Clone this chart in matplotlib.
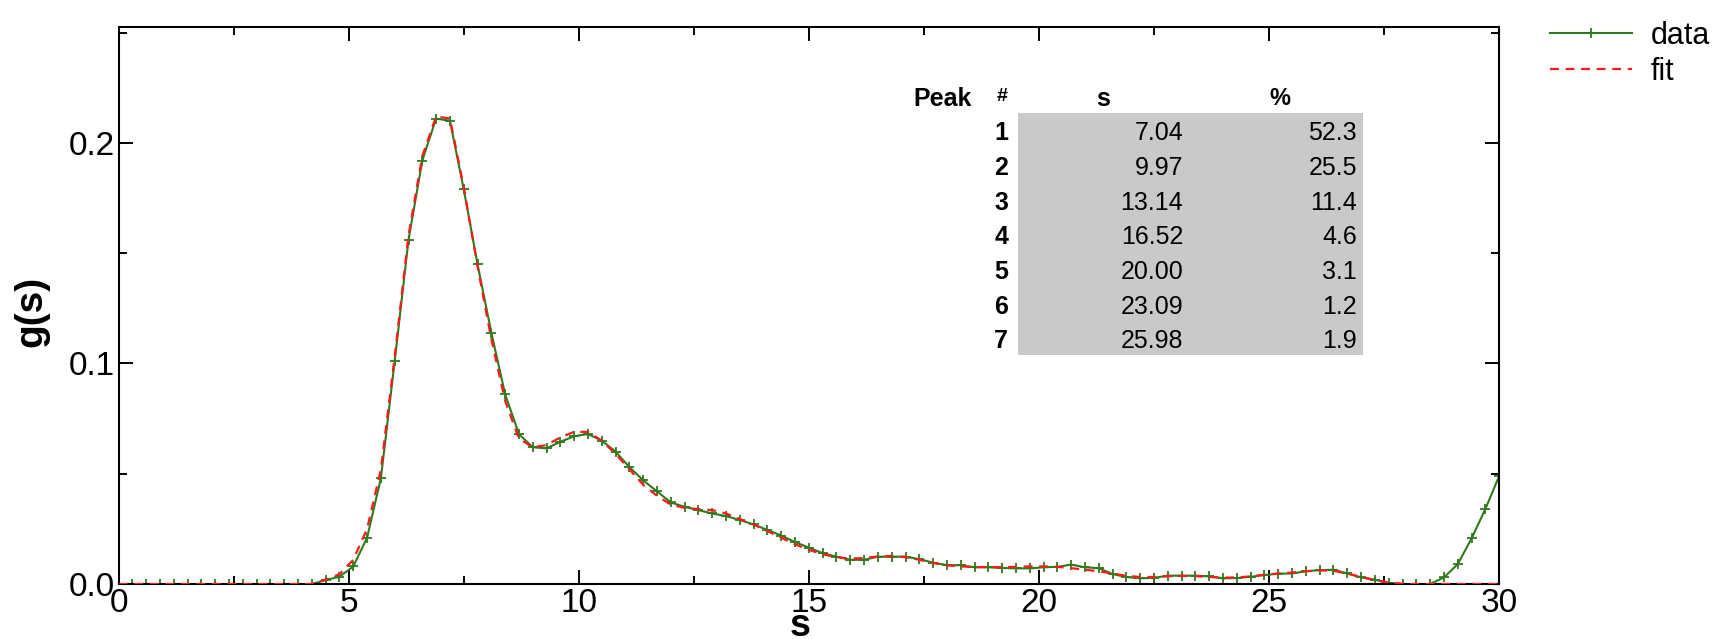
import matplotlib
matplotlib.use("Agg")
import matplotlib.pyplot as plt
from matplotlib.ticker import MultipleLocator, FormatStrFormatter
from matplotlib.patches import Rectangle

plt.rcParams['font.family'] = ['Liberation Sans', 'DejaVu Sans']

# sample positions (s) and g(s) values
s_vals = [0.0, 0.3, 0.6, 0.9, 1.2, 1.5, 1.8, 2.1, 2.4, 2.7,
          3.0, 3.3, 3.6, 3.9, 4.2, 4.5, 4.8, 5.1, 5.4, 5.7,
          6.0, 6.3, 6.6, 6.9, 7.2, 7.5, 7.8, 8.1, 8.4, 8.7,
          9.0, 9.3, 9.6, 9.9, 10.2, 10.5, 10.8, 11.1, 11.4, 11.7,
          12.0, 12.3, 12.6, 12.9, 13.2, 13.5, 13.8, 14.1, 14.4, 14.7,
          15.0, 15.3, 15.6, 15.9, 16.2, 16.5, 16.8, 17.1, 17.4, 17.7,
          18.0, 18.3, 18.6, 18.9, 19.2, 19.5, 19.8, 20.1, 20.4, 20.7,
          21.0, 21.3, 21.6, 21.9, 22.2, 22.5, 22.8, 23.1, 23.4, 23.7,
          24.0, 24.3, 24.6, 24.9, 25.2, 25.5, 25.8, 26.1, 26.4, 26.7,
          27.0, 27.3, 27.6, 27.9, 28.2, 28.5, 28.8, 29.1, 29.4, 29.7,
          30.0]

g_data = [0, 0, 0, 0, 0, 0, 0, 0, 0, 0,
          0, 0, 0, 0, 0, 0.0018, 0.0033, 0.008, 0.021, 0.048,
          0.101, 0.156, 0.192, 0.211, 0.210, 0.179, 0.145, 0.114, 0.086, 0.068,
          0.062, 0.0615, 0.0645, 0.067, 0.068, 0.065, 0.060, 0.053, 0.047, 0.042,
          0.037, 0.035, 0.0335, 0.032, 0.0308, 0.029, 0.027, 0.0245, 0.022, 0.019,
          0.0165, 0.014, 0.0124, 0.011, 0.011, 0.0124, 0.0124, 0.0124, 0.0113, 0.0097,
          0.0086, 0.0085, 0.0076, 0.0076, 0.0073, 0.0071, 0.0071, 0.0076, 0.0078, 0.0088,
          0.0076, 0.0072, 0.0045, 0.0032, 0.0026, 0.0028, 0.0038, 0.0038, 0.0038, 0.0035,
          0.0026, 0.0027, 0.0033, 0.0041, 0.0047, 0.0048, 0.0058, 0.0063, 0.0065, 0.0048,
          0.0030, 0.0020, 0.0003, 0, 0, 0, 0.003, 0.009, 0.0207, 0.034,
          0.049]

g_fit = [0, 0, 0, 0, 0, 0, 0, 0, 0, 0,
         0, 0, 0, 0, 0, 0.002, 0.0045, 0.011, 0.025, 0.052,
         0.103, 0.158, 0.194, 0.212, 0.211, 0.180, 0.144, 0.111, 0.083, 0.066,
         0.062, 0.063, 0.0665, 0.069, 0.069, 0.065, 0.059, 0.052, 0.045, 0.040,
         0.036, 0.0345, 0.034, 0.0335, 0.032, 0.0295, 0.027, 0.024, 0.021, 0.018,
         0.0155, 0.0135, 0.0122, 0.0115, 0.0118, 0.0125, 0.0127, 0.0122, 0.011, 0.0095,
         0.0085, 0.008, 0.0077, 0.0077, 0.0077, 0.0078, 0.008, 0.008, 0.0078, 0.0072,
         0.0065, 0.0058, 0.0048, 0.0037, 0.0032, 0.0032, 0.0035, 0.0037, 0.0036, 0.0032,
         0.0029, 0.003, 0.0035, 0.0042, 0.0048, 0.0052, 0.0058, 0.0062, 0.006, 0.0048,
         0.0032, 0.0018, 0.0007, 0.0002, 0, 0, 0, 0, 0, 0,
         0]

peak_no = ['1', '2', '3', '4', '5', '6', '7']
peak_s = ['7.04', '9.97', '13.14', '16.52', '20.00', '23.09', '25.98']
peak_pct = ['52.3', '25.5', '11.4', '4.6', '3.1', '1.2', '1.9']

green = '#2f7a1c'
red = '#ff1a1a'

fig = plt.figure(figsize=(17.21, 6.39), dpi=100)
ax = fig.add_axes([0.0689, 0.086, 0.8022, 0.872])

ln_d, = ax.plot(s_vals, g_data, color=green, lw=1.5, marker='+', ms=6.5, mew=1.3, label='data', zorder=2)
ln_f, = ax.plot(s_vals, g_fit, color=red, lw=1.6, ls=(0, (4, 3)), label='fit', zorder=3)

ax.set_xlim(0, 30)
ax.set_ylim(0, 0.2526)
ax.xaxis.set_major_locator(MultipleLocator(5))
ax.xaxis.set_minor_locator(MultipleLocator(2.5))
ax.yaxis.set_major_locator(MultipleLocator(0.1))
ax.yaxis.set_minor_locator(MultipleLocator(0.05))
ax.tick_params(which='both', direction='in', top=True, right=True, width=1.4, colors='black')
ax.tick_params(which='major', length=10, labelsize=24, pad=3)
ax.tick_params(which='minor', length=5.5)
ax.xaxis.set_major_formatter(FormatStrFormatter('%g'))
ax.yaxis.set_major_formatter(FormatStrFormatter('%.1f'))
for sp in ax.spines.values():
    sp.set_linewidth(1.5)

xl = ax.set_xlabel('s', fontsize=27, fontweight='bold')
xl.set_va('baseline')
ax.xaxis.set_label_coords(0.4937, -0.094)
yl = ax.set_ylabel('g(s)', fontsize=28, fontweight='bold')
yl.set_va('center')
ax.yaxis.set_label_coords(-0.063, 0.49)

# legend outside, top right
ax.legend(handles=[ln_d, ln_f], loc='upper left', bbox_to_anchor=(0.892, 0.991),
          bbox_transform=fig.transFigure, frameon=False, fontsize=22,
          handlelength=2.68, handletextpad=0.59, labelspacing=0.2, borderpad=0)

# peak table
ax.add_patch(Rectangle((0.6516, 0.4111), 0.2499, 0.4345, transform=ax.transAxes,
                       facecolor='#c9c9c9', edgecolor='none', zorder=1))
ax.text(0.5755, 0.8707, 'Peak', transform=ax.transAxes, ha='left', va='center', fontsize=18, fontweight='bold')
ax.text(0.6443, 0.8757, '#', transform=ax.transAxes, ha='right', va='center', fontsize=14, fontweight='bold')
ax.text(0.7134, 0.8707, 's', transform=ax.transAxes, ha='center', va='center', fontsize=18, fontweight='bold')
ax.text(0.8414, 0.8707, '%', transform=ax.transAxes, ha='center', va='center', fontsize=17, fontweight='bold')
for i in range(len(peak_no)):
    yy = 0.8091 - i * 0.0623
    ax.text(0.6443, yy, peak_no[i], transform=ax.transAxes, ha='right', va='center', fontsize=18, fontweight='bold')
    ax.text(0.7711, yy, peak_s[i], transform=ax.transAxes, ha='right', va='center', fontsize=18)
    ax.text(0.8971, yy, peak_pct[i], transform=ax.transAxes, ha='right', va='center', fontsize=18)

fig.savefig('out.png', dpi=100)
